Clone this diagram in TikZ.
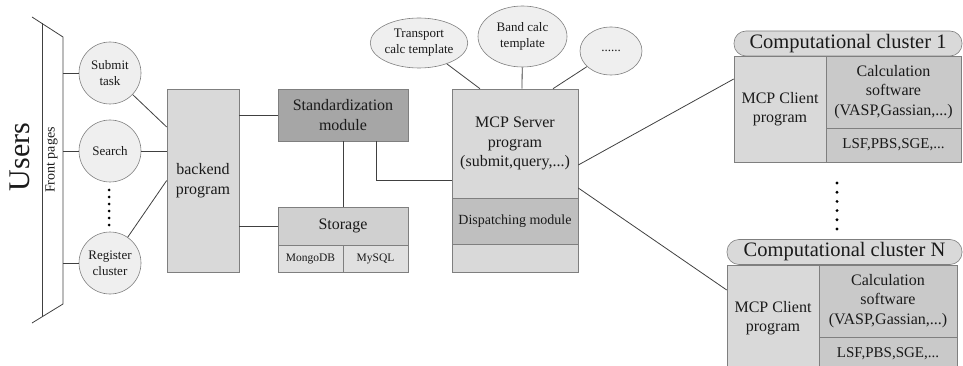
\documentclass[tikz,border=0pt]{standalone}
\usepackage{fontspec}
\setmainfont{Liberation Serif}
\usetikzlibrary{shapes.geometric,calc}
\definecolor{bordg}{HTML}{7F7F7F}
\definecolor{linec}{HTML}{404040}
\definecolor{txt}{HTML}{1A1A1A}
\definecolor{lightg}{HTML}{D9D9D9}
\definecolor{darkg}{HTML}{A6A6A6}
\definecolor{stog}{HTML}{D0D0D0}
\definecolor{stolight}{HTML}{E0E0E0}
\definecolor{dispg}{HTML}{BFBFBF}
\definecolor{cellg}{HTML}{C9C9C9}
\definecolor{circf}{HTML}{EFEFEF}
\begin{document}
\begin{tikzpicture}[x=1pt,y=-1pt,
  box/.style={draw=bordg, line width=0.6pt, inner sep=0pt, align=center, text=txt, font=\fontsize{16pt}{19.5pt}\selectfont},
  circ/.style={circle, draw=bordg, line width=0.6pt, fill=circf, minimum size=62pt, inner sep=0pt, align=center, text=txt, font=\fontsize{13pt}{16pt}\selectfont},
  ell/.style={ellipse, draw=bordg, line width=0.6pt, fill=circf, inner sep=0pt, align=center, text=txt, font=\fontsize{13pt}{16pt}\selectfont},
  hdr/.style={draw=bordg, line width=0.6pt, fill=lightg, rounded corners=12pt, minimum height=25pt, inner sep=0pt, text=txt, font=\fontsize{20.5pt}{24pt}\selectfont},
  conn/.style={draw=linec, line width=0.8pt},
  trap/.style={draw=linec, line width=0.8pt}]
\useasboundingbox (0,0) rectangle (963,366);
\clip (0,0) rectangle (963,366);

% Users / front pages
\node[rotate=90, text=txt, font=\fontsize{30pt}{36pt}\selectfont] (users) at (20,157) {Users};
\draw[trap] (32,17) -- (63,37) -- (63,304) -- (32,323);
\draw[trap] (42,23.45) -- (42,316.9);
\coordinate (fpR) at (63,37);
\node[rotate=90, text=txt, font=\fontsize{14pt}{17pt}\selectfont] (fp) at (51.5,160) {Front pages};

% circles
\node[circ] (sub) at (110,73) {Submit\\task};
\node[circ] (sea) at (110,151) {Search};
\node[circ] (reg) at (110,263) {Register\\cluster};
\foreach \i in {0,...,5} \fill[black] (109,190+7*\i) circle (1.5pt);

\draw[conn] (sub.west -| fpR) -- (sub.west);
\draw[conn] (sea.west -| fpR) -- (sea.west);
\draw[conn] (reg.west -| fpR) -- (reg.west);

% backend
\node[box, fill=lightg, minimum width=72pt, minimum height=183pt] (bk) at (203,180.5) {backend\\program};
\draw[conn] (sub) -- ([yshift=53.5pt]bk.west);
\draw[conn] (sea.east) -- ([yshift=29.5pt]bk.west);
\draw[conn] (reg) -- (bk.west);

% standardization and storage
\node[box, fill=darkg, minimum width=130pt, minimum height=52pt] (std) at (343,115) {Standardization\\module};
\node[box, fill=stog, minimum width=130pt, minimum height=38pt] (sto) at (343,226) {Storage};
\node[box, fill=stolight, minimum width=65pt, minimum height=27pt, font=\fontsize{11.5pt}{14pt}\selectfont] (mongo) at (310.5,258.5) {MongoDB};
\node[box, fill=stolight, minimum width=65pt, minimum height=27pt, font=\fontsize{11.5pt}{14pt}\selectfont] (mysql) at (375.5,258.5) {MySQL};
\draw[conn] (bk.east |- std.west) -- (std.west);
\draw[conn] (bk.east |- sto.west) -- (sto.west);
\draw[conn] (std.south) -- (sto.north);

% MCP server
\node[box, fill=lightg, minimum width=126pt, minimum height=183pt] (mcp) at (515,180.5) {};
\node[align=center, text=txt, font=\fontsize{16pt}{19.5pt}\selectfont, inner sep=0pt] (mcpt) at (515,143.5) {MCP Server\\program\\(submit,query,...)};
\node[box, fill=dispg, minimum width=126pt, minimum height=46pt, font=\fontsize{14pt}{17pt}\selectfont] (disp) at (515,221) {Dispatching module};
\draw[conn] ([xshift=33pt]std.south) |- (mcp.west);

% templates
\node[ell, minimum width=86pt, minimum height=50pt] (tr) at (419,43) {Transport\\calc template};
\node[ell, minimum width=89pt, minimum height=61pt] (band) at (522.5,36.5) {Band calc\\template};
\node[ell, minimum width=62pt, minimum height=48pt] (more) at (611,51) {......};
\draw[conn] (tr) -- ([xshift=-35pt]mcp.north);
\draw[conn] (band) -- ([xshift=7pt]mcp.north);
\draw[conn] (more) -- ([xshift=38pt]mcp.north);

% cluster 1
\node[hdr, minimum width=228pt] (c1h) at (848,43.5) {Computational cluster 1};
\node[box, fill=lightg, minimum width=92pt, minimum height=106pt] (c1l) at (780,109) {MCP Client\\program};
\node[box, fill=cellg, minimum width=135pt, minimum height=72pt] (c1a) at (893.5,92) {Calculation\\software\\(VASP,Gassian,...)};
\node[box, fill=cellg, minimum width=135pt, minimum height=34pt, font=\fontsize{15pt}{18pt}\selectfont] (c1b) at (893.5,145) {LSF,PBS,SGE,...};

% cluster N
\node[hdr, minimum width=235pt] (cnh) at (844.5,252) {Computational cluster N};
\node[box, fill=lightg, minimum width=92pt, minimum height=106pt] (cnl) at (773,318) {MCP Client\\program};
\node[box, fill=cellg, minimum width=138pt, minimum height=72pt] (cna) at (888,301) {Calculation\\software\\(VASP,Gassian,...)};
\node[box, fill=cellg, minimum width=138pt, minimum height=34pt, font=\fontsize{15pt}{18pt}\selectfont] (cnb) at (888,354) {LSF,PBS,SGE,...};

\foreach \i in {0,...,5} \fill[black] (837,183+9.2*\i) circle (1.6pt);

\draw[conn] ([yshift=15.5pt]mcp.east) -- ([yshift=30pt]c1l.west);
\draw[conn] ([yshift=-7.5pt]mcp.east) -- ([yshift=28pt]cnl.west);
\end{tikzpicture}
\end{document}
